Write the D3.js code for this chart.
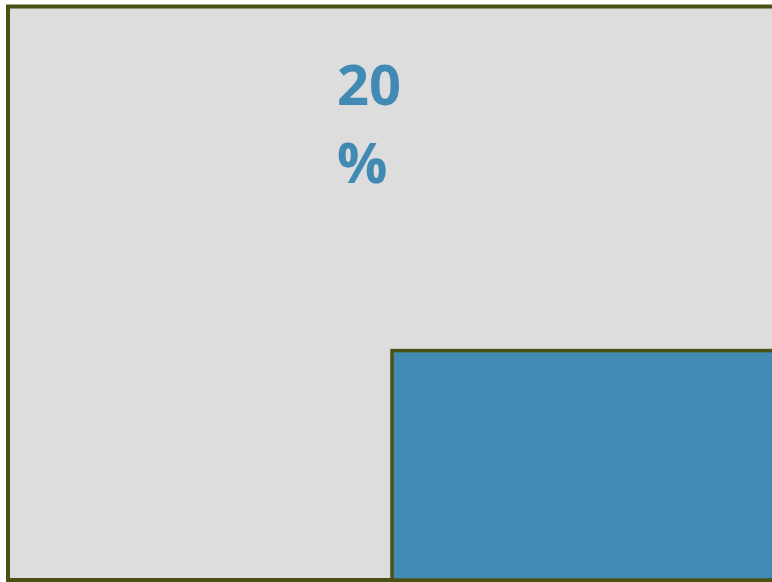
<!DOCTYPE html>
<html lang="en">
<head>
  <meta charset="UTF-8">
  <title>20%</title>
  <style>
    body { margin: 0; background: #fff; }
    .frame { fill: #dddddd; stroke: #4b5115; stroke-width: 4px; }
    .bar { fill: #418ab3; stroke: #4b5115; stroke-width: 3.5px; }
    .label { fill: #418ab3; font-family: "Open Sans", sans-serif; font-weight: bold; font-size: 56px; }
  </style>
</head>
<body>
  <script src="https://cdn.jsdelivr.net/npm/d3@7"></script>
  <script>
    const width = 772, height = 582;
    const categories = ['', 'share'];
    const values = [null, 0.2];
    const labelParts = ['20', '%'];

    const marginLeft = 8, marginTop = 6.5, baseY = 580;
    const x = d3.scaleBand().domain(categories).range([marginLeft, marginLeft + 2 * 384]).padding(0);
    const y = d3.scaleLinear().domain([0, 0.5]).range([baseY, marginTop]);

    const svg = d3.select('body').append('svg')
      .attr('width', width).attr('height', height)
      .style('display', 'block');

    svg.append('rect').attr('class', 'frame')
      .attr('x', marginLeft).attr('y', marginTop)
      .attr('width', width + 20).attr('height', baseY - marginTop);

    svg.selectAll('rect.bar')
      .data(categories.map((c, i) => ({c, v: values[i]})).filter(d => d.v != null))
      .enter().append('rect')
      .attr('class', 'bar')
      .attr('x', d => x(d.c))
      .attr('y', d => y(d.v))
      .attr('width', x.bandwidth() + 20)
      .attr('height', d => y(0) - y(d.v));

    const label = svg.append('text').attr('class', 'label')
      .attr('x', 337).attr('y', 105);
    label.selectAll('tspan').data(labelParts).enter().append('tspan')
      .attr('x', 337)
      .attr('dy', (d, i) => i === 0 ? 0 : 78)
      .text(d => d);
  </script>
</body>
</html>
